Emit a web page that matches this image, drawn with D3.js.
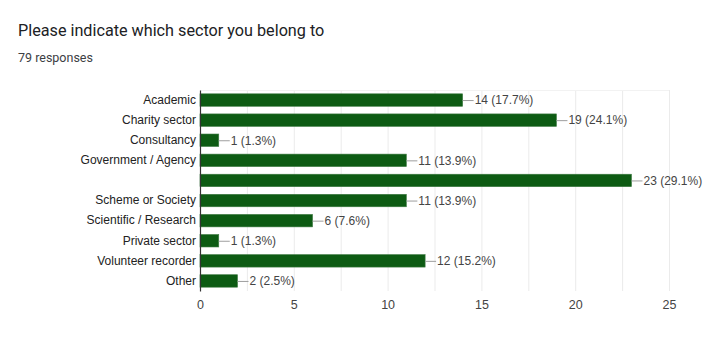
<!DOCTYPE html>
<html>
<head>
<meta charset="utf-8">
<script src="https://cdn.jsdelivr.net/npm/d3@7/dist/d3.min.js"></script>
<style>
  html, body { margin: 0; padding: 0; background: #fff; }
  svg { display: block; }
</style>
</head>
<body>
<script>
// Survey answers: sector of respondents
const categories = [
  "Academic", "Charity sector", "Consultancy", "Government / Agency", "",
  "Scheme or Society", "Scientific / Research", "Private sector",
  "Volunteer recorder", "Other"
];
const counts = [14, 19, 1, 11, 23, 11, 6, 1, 12, 2];
const percents = ["17.7%", "24.1%", "1.3%", "13.9%", "29.1%", "13.9%", "7.6%", "1.3%", "15.2%", "2.5%"];
const xTicks = [0, 5, 10, 15, 20, 25];
const gridValues = [2.5, 5, 7.5, 10, 12.5, 15, 17.5, 20, 22.5, 25];
const title = "Please indicate which sector you belong to";
const subtitle = "79 responses";

const W = 718, H = 350;
const margin = { left: 200, right: 48, top: 90, bottom: 60 };
const font = "'Liberation Sans', Arial, sans-serif";

const svg = d3.select("body").append("svg").attr("width", W).attr("height", H);

svg.append("text")
  .attr("x", 18).attr("y", 36)
  .attr("font-family", "Roboto, 'Liberation Sans', Arial, sans-serif")
  .attr("font-size", 16.2)
  .attr("fill", "#202124")
  .text(title);

svg.append("text")
  .attr("x", 18).attr("y", 62)
  .attr("font-family", "Roboto, 'Liberation Sans', Arial, sans-serif")
  .attr("font-size", 12.5)
  .attr("fill", "#3c4043")
  .text(subtitle);

const x = d3.scaleLinear().domain([0, 25]).range([margin.left, margin.left + 469]);
const y = d3.scaleBand().domain(d3.range(categories.length))
  .range([margin.top, margin.top + 201]).paddingInner(0.38).paddingOuter(0.19);

const rows = categories.map((c, i) => ({ c, v: counts[i], p: percents[i], i }));

// vertical gridlines
svg.append("g").selectAll("line").data(gridValues).join("line")
  .attr("x1", d => x(d) + 0.5).attr("x2", d => x(d) + 0.5)
  .attr("y1", margin.top).attr("y2", margin.top + 201)
  .attr("stroke", "#ebebeb").attr("stroke-width", 1);

// top edge of plot area
svg.append("line")
  .attr("x1", x(0)).attr("x2", x(25))
  .attr("y1", margin.top + 0.5).attr("y2", margin.top + 0.5)
  .attr("stroke", "#f2f2f2");

// bars
svg.append("g").selectAll("rect").data(rows).join("rect")
  .attr("x", x(0)).attr("y", d => y(d.i))
  .attr("width", d => x(d.v) - x(0))
  .attr("height", y.bandwidth())
  .attr("fill", "#0d5b13")
  .attr("stroke", "#3d7a42").attr("stroke-width", 0.6);

// value callouts
const lab = svg.append("g");
lab.selectAll("line").data(rows).join("line")
  .attr("x1", d => x(d.v)).attr("x2", d => x(d.v) + 11)
  .attr("y1", d => y(d.i) + y.bandwidth() / 2 + 0.5)
  .attr("y2", d => y(d.i) + y.bandwidth() / 2 + 0.5)
  .attr("stroke", "#9e9e9e").attr("stroke-width", 1);
lab.selectAll("text").data(rows).join("text")
  .attr("x", d => x(d.v) + 12)
  .attr("y", d => y(d.i) + y.bandwidth() / 2)
  .attr("dy", "0.36em")
  .attr("font-family", font).attr("font-size", 12)
  .attr("fill", "#444")
  .text(d => `${d.v} (${d.p})`);

// category axis
const yAxis = svg.append("g")
  .attr("transform", `translate(${x(0)},0)`)
  .call(d3.axisLeft(y).tickSize(0).tickPadding(4).tickFormat(i => categories[i]));
yAxis.select(".domain").attr("stroke", "#333").attr("stroke-width", 1.2);
yAxis.selectAll("text")
  .attr("font-family", font).attr("font-size", 12).attr("fill", "#222");

// value axis
const xAxis = svg.append("g")
  .attr("transform", `translate(0,${margin.top + 201})`)
  .call(d3.axisBottom(x).tickValues(xTicks).tickSize(0).tickPadding(9));
xAxis.select(".domain").remove();
xAxis.selectAll("text")
  .attr("font-family", font).attr("font-size", 12.5).attr("fill", "#444");
</script>
</body>
</html>
